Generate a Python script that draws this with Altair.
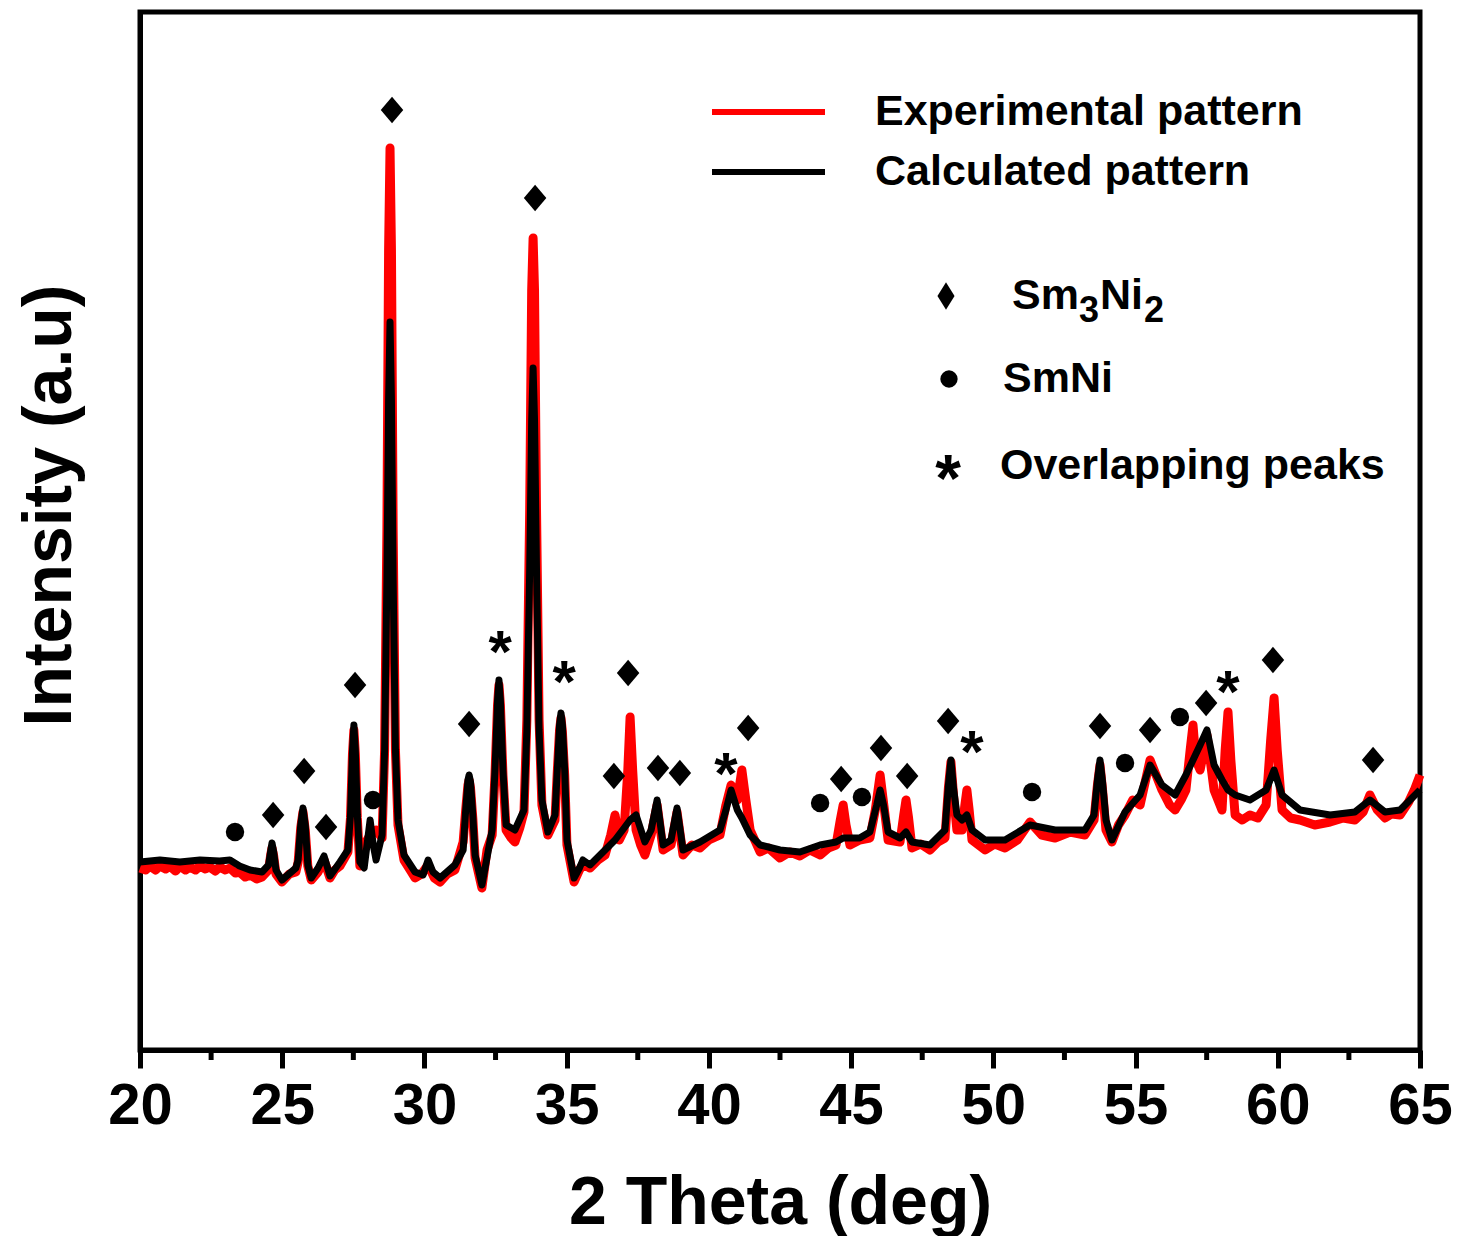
import altair as alt
import pandas as pd

# ---------------- data ----------------
calc_2theta = [20.0, 20.7, 21.4, 22.11, 22.8, 23.16, 23.5, 23.87, 24.29, 24.52, 24.6, 24.64, 24.7, 24.78,
               24.99, 25.48, 25.56, 25.65, 25.73, 25.81, 25.9, 26.02, 26.26, 26.47, 26.68, 27.03, 27.31, 27.4,
               27.47, 27.52, 27.57, 27.64, 27.73, 27.88, 28.09, 28.2, 28.3, 28.51, 28.6, 28.68, 28.74, 28.79,
               28.84, 28.9, 28.98, 29.07, 29.28, 29.67, 29.95, 30.13, 30.3, 30.55, 31.07, 31.36, 31.45, 31.53,
               31.57, 31.62, 31.7, 31.78, 32.02, 32.38, 32.48, 32.57, 32.62, 32.67, 32.76, 32.87, 33.18, 33.5,
               33.6, 33.7, 33.77, 33.82, 33.87, 33.94, 34.03, 34.13, 34.34, 34.59, 34.67, 34.75, 34.8, 34.85,
               34.93, 35.01, 35.26, 35.45, 35.57, 35.82, 36.35, 36.7, 37.02, 37.23, 37.44, 37.75, 37.97, 38.18,
               38.39, 38.67, 38.88, 39.09, 39.69, 40.39, 40.6, 40.78, 41.0, 41.16, 41.45, 41.8, 42.5, 43.2,
               43.91, 44.47, 44.72, 45.3, 45.66, 45.9, 46.02, 46.14, 46.3, 46.72, 46.93, 47.14, 47.77, 48.3,
               48.42, 48.51, 48.6, 48.72, 48.9, 49.07, 49.25, 49.71, 50.41, 51.29, 52.17, 53.22, 53.54, 53.66,
               53.75, 53.84, 53.96, 54.17, 54.63, 55.16, 55.51, 55.93, 56.39, 56.77, 57.02, 57.27, 57.51, 57.76,
               58.04, 58.25, 58.5, 59.02, 59.59, 59.87, 60.15, 60.78, 61.84, 62.71, 63.24, 63.77, 64.3, 65.0]
calc_int = [188, 190, 188, 190, 189, 190, 184, 180, 178, 185, 200, 207, 198, 180,
            170, 182, 190, 225, 242, 225, 185, 172, 182, 194, 174, 188, 200, 235,
            300, 325, 300, 235, 188, 182, 230, 205, 190, 215, 300, 470, 650, 728,
            650, 470, 300, 230, 195, 178, 175, 190, 178, 172, 185, 200, 240, 270,
            275, 268, 235, 195, 165, 220, 280, 350, 370, 350, 280, 225, 220, 240,
            320, 480, 630, 682, 630, 480, 320, 250, 218, 235, 280, 325, 337, 325,
            280, 210, 172, 182, 190, 185, 200, 210, 222, 230, 235, 208, 220, 250,
            205, 210, 242, 200, 208, 220, 240, 260, 240, 232, 215, 205, 200, 198,
            205, 208, 212, 212, 218, 245, 260, 245, 218, 212, 218, 208, 205, 220,
            265, 290, 262, 235, 230, 235, 220, 210, 210, 225, 220, 220, 235, 270,
            290, 268, 230, 210, 238, 255, 285, 265, 255, 275, 290, 305, 320, 285,
            270, 260, 255, 250, 260, 280, 255, 240, 235, 238, 250, 238, 240, 260]

exp_2theta = [20.0, 20.2, 20.35, 20.55, 20.7, 20.9, 21.05, 21.25, 21.4, 21.6, 21.75, 21.95, 22.11, 22.3,
              22.45, 22.65, 22.8, 23.0, 23.16, 23.35, 23.5, 23.7, 23.87, 24.1, 24.29, 24.52, 24.6, 24.64,
              24.7, 24.78, 24.99, 25.25, 25.48, 25.56, 25.65, 25.73, 25.81, 25.9, 26.02, 26.26, 26.47, 26.68,
              26.85, 27.03, 27.31, 27.4, 27.47, 27.52, 27.57, 27.64, 27.73, 27.88, 28.09, 28.3, 28.51, 28.6,
              28.68, 28.74, 28.79, 28.84, 28.9, 28.98, 29.07, 29.28, 29.5, 29.67, 29.9, 30.13, 30.35, 30.55,
              30.8, 31.07, 31.36, 31.45, 31.53, 31.57, 31.62, 31.7, 31.78, 32.02, 32.2, 32.38, 32.48, 32.57,
              32.62, 32.67, 32.76, 32.87, 33.05, 33.18, 33.35, 33.5, 33.6, 33.7, 33.77, 33.82, 33.87, 33.94,
              34.03, 34.13, 34.34, 34.59, 34.67, 34.75, 34.8, 34.85, 34.93, 35.01, 35.26, 35.45, 35.57, 35.82,
              36.1, 36.35, 36.55, 36.7, 36.85, 37.02, 37.15, 37.23, 37.32, 37.44, 37.6, 37.75, 37.97, 38.18,
              38.39, 38.67, 38.88, 39.09, 39.4, 39.69, 40.0, 40.39, 40.6, 40.78, 41.0, 41.16, 41.3, 41.45,
              41.8, 42.1, 42.5, 42.85, 43.2, 43.55, 43.91, 44.2, 44.47, 44.62, 44.72, 44.82, 44.96, 45.3,
              45.66, 45.85, 46.02, 46.15, 46.3, 46.72, 46.85, 46.93, 47.02, 47.14, 47.45, 47.77, 48.05, 48.3,
              48.42, 48.51, 48.6, 48.72, 48.9, 49.0, 49.07, 49.15, 49.25, 49.71, 50.05, 50.41, 50.85, 51.29,
              51.7, 52.17, 52.7, 53.22, 53.54, 53.66, 53.75, 53.84, 53.96, 54.17, 54.4, 54.63, 54.9, 55.16,
              55.51, 55.93, 56.2, 56.39, 56.6, 56.77, 56.92, 57.02, 57.12, 57.27, 57.51, 57.76, 58.04, 58.15,
              58.25, 58.35, 58.5, 58.75, 59.02, 59.3, 59.59, 59.75, 59.87, 59.98, 60.15, 60.45, 60.78, 61.3,
              61.84, 62.3, 62.71, 63.0, 63.24, 63.5, 63.77, 64.0, 64.3, 64.6, 64.8, 65.0]
exp_int = [182, 180, 184, 180, 184, 181, 184, 179, 184, 180, 183, 180, 184, 181,
           183, 179, 183, 180, 182, 177, 178, 173, 175, 171, 173, 180, 196, 202,
           194, 176, 168, 176, 178, 188, 222, 238, 220, 184, 170, 178, 190, 172,
           180, 184, 198, 232, 296, 320, 296, 232, 184, 205, 215, 220, 212, 300,
           520, 800, 902, 800, 520, 300, 225, 190, 180, 172, 176, 185, 172, 168,
           176, 180, 208, 240, 265, 270, 262, 232, 192, 162, 200, 215, 275, 345,
           365, 345, 275, 220, 212, 208, 222, 238, 330, 540, 760, 812, 760, 540,
           330, 245, 215, 230, 278, 320, 332, 318, 275, 205, 168, 180, 186, 182,
           190, 195, 215, 235, 210, 220, 280, 333, 280, 220, 205, 195, 215, 245,
           200, 205, 238, 195, 205, 202, 210, 215, 245, 265, 250, 280, 250, 220,
           198, 202, 192, 198, 194, 200, 195, 202, 205, 230, 245, 225, 205, 210,
           212, 240, 275, 245, 210, 208, 235, 250, 232, 202, 206, 200, 208, 212,
           262, 288, 255, 220, 220, 245, 260, 240, 210, 200, 206, 202, 210, 228,
           215, 212, 218, 215, 230, 265, 285, 260, 220, 208, 225, 235, 250, 245,
           290, 260, 245, 240, 250, 260, 300, 325, 290, 280, 315, 260, 240, 300,
           338, 290, 235, 230, 235, 232, 245, 310, 352, 300, 240, 232, 230, 225,
           228, 232, 230, 238, 255, 240, 232, 236, 235, 248, 260, 275]

# peak markers
sm3ni2_2theta = [24.68, 25.77, 26.54, 27.56, 28.86, 31.57, 33.89, 36.66, 37.16, 38.21, 38.98, 41.38,
                 44.65, 46.05, 46.97, 48.41, 53.75, 55.51, 57.48, 59.83, 63.35]
sm3ni2_int = [235, 279, 223, 365, 940, 326, 852, 274, 377, 282, 277, 322,
              271, 302, 274, 329, 324, 320, 347, 390, 290]
smni_2theta = [23.34, 28.19, 43.91, 45.38, 51.36, 54.63, 56.56]
smni_int = [218, 250, 247, 253, 258, 287, 333]
overlap_2theta = [32.66, 34.91, 40.60, 49.25, 58.25]
overlap_int = [410, 380, 288, 310, 370]

x_ticks = [20, 25, 30, 35, 40, 45, 50, 55, 60, 65]
x_minor = [22.5, 27.5, 32.5, 37.5, 42.5, 47.5, 52.5, 57.5, 62.5]

FONT = "Liberation Sans"
W, H = 1280, 1038
DIAMOND = "M-0.85,0L0,-1L0.85,0L0,1Z"
DIAMOND_NARROW = "M-0.62,0L0,-1L0.62,0L0,1Z"

xs = alt.Scale(domain=[20, 65], nice=False, zero=False)
ys = alt.Scale(domain=[0, 1038], nice=False, zero=False)

exp_df = pd.DataFrame({"t": exp_2theta, "i": exp_int})
calc_df = pd.DataFrame({"t": calc_2theta, "i": calc_int})

x_enc = alt.X("t:Q", scale=xs,
              axis=alt.Axis(values=x_ticks, title="2 Theta (deg)", format="d", grid=False,
                            tickSize=18, tickWidth=5, tickColor="black",
                            domainColor="black", domainWidth=5, labelFlush=False,
                            labelFont=FONT, labelFontSize=58, labelFontWeight="bold",
                            labelColor="black", labelPadding=9,
                            titleFont=FONT, titleFontSize=68, titleFontWeight="bold",
                            titleColor="black", titlePadding=34))
y_enc = alt.Y("i:Q", scale=ys,
              axis=alt.Axis(title="Intensity (a.u)", ticks=False, labels=False, grid=False,
                            domainColor="black", domainWidth=5,
                            titleFont=FONT, titleFontSize=68, titleFontWeight="bold",
                            titleColor="black", titleAngle=270, titleX=-70, titleY=493,
                            titleAlign="center", titleBaseline="alphabetic"))

exp_line = alt.Chart(exp_df).mark_line(color="#ff0000", strokeWidth=9, strokeJoin="round").encode(
    x=x_enc, y=y_enc, order="t:Q")
calc_line = alt.Chart(calc_df).mark_line(color="black", strokeWidth=7, strokeJoin="round").encode(
    x="t:Q", y="i:Q", order="t:Q")

minor_df = pd.DataFrame({"t": x_minor})
minor_ticks = alt.Chart(minor_df).mark_rule(color="black", strokeWidth=5).encode(
    x="t:Q", y=alt.value(H), y2=alt.value(H + 10))

dia = alt.Chart(pd.DataFrame({"t": sm3ni2_2theta, "i": sm3ni2_int})).mark_point(
    shape=DIAMOND, filled=True, size=700, color="black", opacity=1, strokeWidth=0).encode(x="t:Q", y="i:Q")
dots = alt.Chart(pd.DataFrame({"t": smni_2theta, "i": smni_int})).mark_circle(
    size=340, color="black", opacity=1).encode(x="t:Q", y="i:Q")
stars = alt.Chart(pd.DataFrame({"t": overlap_2theta, "i": overlap_int})).mark_text(
    text="*", font=FONT, fontSize=60, fontWeight="bold", color="black", baseline="middle", dy=14
).encode(x="t:Q", y="i:Q")

# ---------------- custom legend ----------------
legend_line_labels = ["Experimental pattern", "Calculated pattern"]
legend_line_colors = ["#ff0000", "black"]
phase_labels = ["SmNi", "Overlapping peaks"]
LFS = 43

one = pd.DataFrame({"k": [0]})
legend = []
for lab, col, yy in zip(legend_line_labels, legend_line_colors, [100, 160]):
    legend.append(alt.Chart(one).mark_rule(color=col, strokeWidth=6).encode(
        x=alt.value(572), x2=alt.value(685), y=alt.value(yy)))
    legend.append(alt.Chart(pd.DataFrame({"s": [lab]})).mark_text(
        font=FONT, fontSize=LFS, fontWeight="bold", color="black", align="left", baseline="middle"
    ).encode(x=alt.value(735), y=alt.value(yy), text="s:N"))

legend.append(alt.Chart(one).mark_point(shape=DIAMOND_NARROW, filled=True, size=760, color="black",
                                        opacity=1, strokeWidth=0)
              .encode(x=alt.value(806), y=alt.value(284)))
for txt, xx, fs, dy in [("Sm", 872, LFS, 0), ("3", 939, 36, 15), ("Ni", 960, LFS, 0), ("2", 1004, 36, 15)]:
    legend.append(alt.Chart(pd.DataFrame({"s": [txt]})).mark_text(
        font=FONT, fontSize=fs, fontWeight="bold", color="black", align="left", baseline="middle", dy=dy
    ).encode(x=alt.value(xx), y=alt.value(284), text="s:N"))

legend.append(alt.Chart(one).mark_circle(size=300, color="black", opacity=1)
              .encode(x=alt.value(809), y=alt.value(367)))
legend.append(alt.Chart(pd.DataFrame({"s": [phase_labels[0]]})).mark_text(
    font=FONT, fontSize=LFS, fontWeight="bold", color="black", align="left", baseline="middle"
).encode(x=alt.value(863), y=alt.value(367), text="s:N"))
legend.append(alt.Chart(pd.DataFrame({"s": ["*"]})).mark_text(
    font=FONT, fontSize=66, fontWeight="bold", color="black", align="center", baseline="middle", dy=15
).encode(x=alt.value(808), y=alt.value(454), text="s:N"))
legend.append(alt.Chart(pd.DataFrame({"s": [phase_labels[1]]})).mark_text(
    font=FONT, fontSize=LFS, fontWeight="bold", color="black", align="left", baseline="middle"
).encode(x=alt.value(860), y=alt.value(454), text="s:N"))

chart = alt.layer(exp_line, calc_line, minor_ticks, dia, dots, stars, *legend).properties(
    width=W, height=H,
    autosize=alt.AutoSizeParams(type="none"),
    padding={"left": 140, "top": 12, "right": 42, "bottom": 186},
    background="white",
).configure_view(stroke="black", strokeWidth=5)

chart.save("out.html", embed_options={"renderer": "svg", "actions": False})
